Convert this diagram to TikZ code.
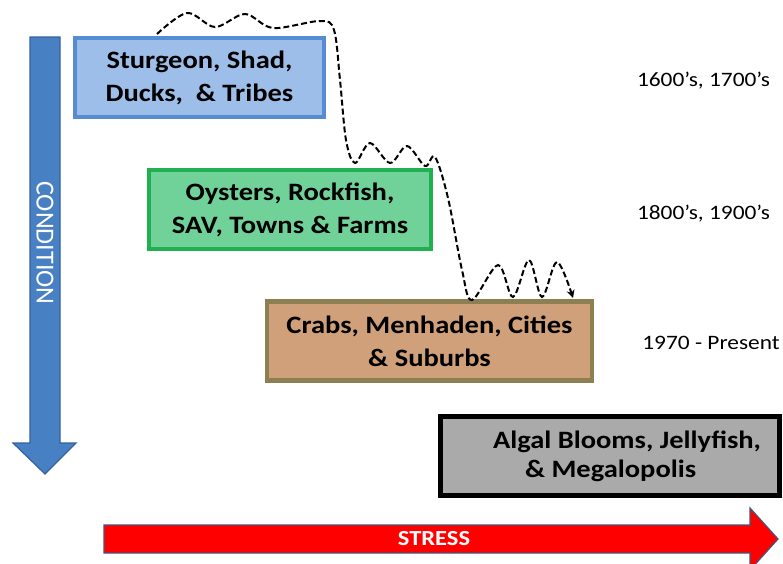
\documentclass[tikz,border=0pt]{standalone}
\usepackage{fontspec}
\setmainfont{Carlito}[FakeStretch=1.14]
\newfontfamily\plainfont{Carlito}
\usetikzlibrary{arrows.meta}

\definecolor{sturgeonfill}{RGB}{157,190,232}
\definecolor{sturgeonline}{RGB}{88,140,210}
\definecolor{oysterfill}{RGB}{112,210,152}
\definecolor{oysterline}{RGB}{32,176,80}
\definecolor{crabfill}{RGB}{208,160,122}
\definecolor{crabline}{RGB}{140,128,82}
\definecolor{algalfill}{RGB}{170,170,170}
\definecolor{condfill}{RGB}{72,128,196}
\definecolor{condline}{RGB}{52,98,160}
\definecolor{stressline}{RGB}{70,84,120}

\newcommand\erafont{\bfseries\fontsize{25}{33}\selectfont}
\newcommand\datefont{\fontsize{20.5}{24}\selectfont}

\tikzset{
  era/.style={draw, line width=4pt, minimum height=79pt, inner sep=0pt, align=center, font=\erafont},
  datelabel/.style={anchor=base, inner sep=0pt, font=\datefont},
  wiggle/.style={dash pattern=on 6pt off 3pt, line width=2pt, -{Stealth[length=8pt, width=8pt]}}
}

\begin{document}
\begin{tikzpicture}[x=1pt, y=-1pt]
    \useasboundingbox (0, 0) rectangle (783, 563);
    \fill [white] (0, 0) rectangle (783, 563);
    \clip (0, 0) rectangle (783, 563);

    % condition and stress arrows
    \filldraw [fill=condfill, draw=condline, line width=1.2pt] (30, 37) -- (60, 37) -- (60, 443) -- (76, 443) --
                (45, 474) -- (13, 443) -- (30, 443) -- cycle;
    \node (condition) [rotate=-90, text=white, font=\plainfont\fontsize{26}{28}\selectfont] at (45, 243) {CONDITION};
    \filldraw [fill=red, draw=stressline, line width=1.2pt] (104, 525) -- (750, 525) -- (750, 508) -- (778, 539) --
                (750, 570) -- (750, 553) -- (104, 553) -- cycle;
    \node (stress) [text=white, font=\bfseries\fontsize{21.5}{24}\selectfont] at (434, 539) {STRESS};

    % eras
    \node (sturgeon) [era, fill=sturgeonfill, draw=sturgeonline, minimum width=249pt] at (199.5, 77.5)
        {Sturgeon, Shad,\\Ducks,\ \ \& Tribes};
    \node (oyster) [era, fill=oysterfill, draw=oysterline, line width=4.5pt, minimum width=282pt] at (290, 209.5)
        {Oysters, Rockfish,\\SAV, Towns \& Farms};
    \node (crab) [era, fill=crabfill, draw=crabline, line width=4.5pt, minimum width=325pt] at (429.5, 341)
        {Crabs, Menhaden, Cities\\\& Suburbs};
    \node (algal) [era, fill=algalfill, draw=black, line width=5pt, minimum width=339pt, align=left,
        font=\bfseries\fontsize{25}{29}\selectfont] at (610, 456)
        {\hspace*{34pt}Algal Blooms, Jellyfish,\\\hspace*{66pt}\& Megalopolis};

    % dates
    \node (early) [datelabel] at (703.5, 86) {1600’s, 1700’s};
    \node (middle) [datelabel] at (703.5, 219) {1800’s, 1900’s};
    \node (recent) [datelabel] at (711, 349) {1970 - Present};

    % decline path
    \coordinate (wstart) at (157, 34);
    \coordinate (wend) at (573, 298);
    \draw [wiggle] plot [smooth, tension=0.55] coordinates {(wstart) (187, 13) (215, 27) (245, 14) (273, 28)
        (320, 21) (334, 30) (340, 80) (346, 140) (355, 163) (370, 143) (390, 163) (407, 146) (425, 166)
        (435, 157) (448, 198) (462, 270) (472, 300) (498, 265) (513, 297) (529, 260) (542, 297) (557, 262) (wend)};

\end{tikzpicture}
\end{document}
